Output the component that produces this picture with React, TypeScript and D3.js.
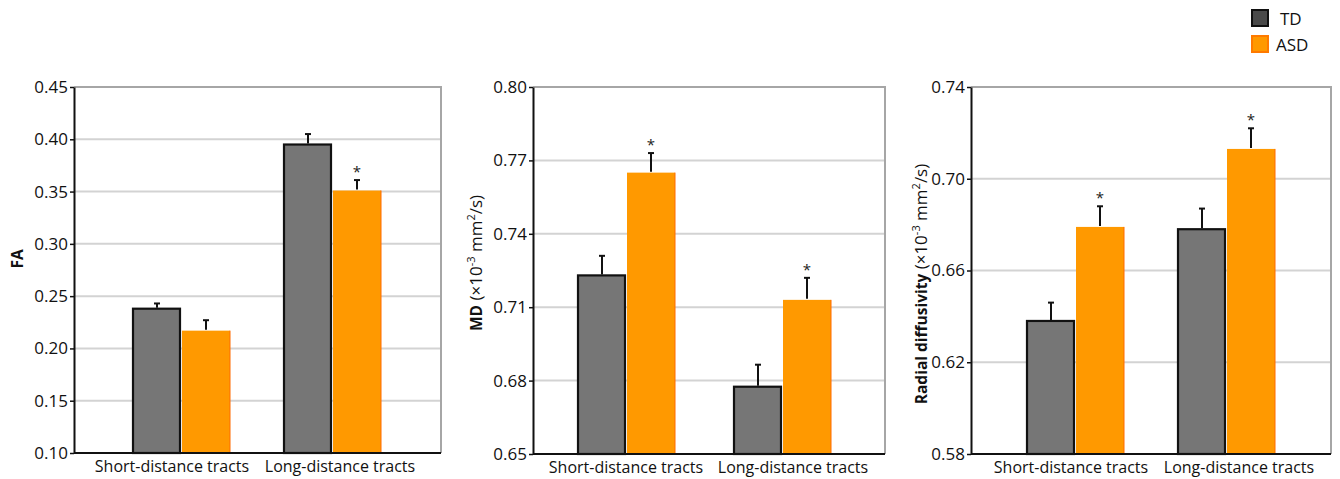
import React, { useRef, useEffect } from "react";
import * as d3 from "d3";

const categories = ["Short-distance tracts", "Long-distance tracts"];
const seriesNames = ["TD", "ASD"];

// FA
const faTD = [0.238, 0.395];
const faTDErr = [0.005, 0.01];
const faASD = [0.217, 0.351];
const faASDErr = [0.01, 0.01];
const faSig = [false, true];

// MD
const mdTD = [0.723, 0.6775];
const mdTDErr = [0.008, 0.009];
const mdASD = [0.765, 0.713];
const mdASDErr = [0.008, 0.009];
const mdSig = [true, true];

// Radial diffusivity
const rdTD = [0.638, 0.678];
const rdTDErr = [0.008, 0.009];
const rdASD = [0.679, 0.713];
const rdASDErr = [0.009, 0.009];
const rdSig = [true, true];

const faTicks = [0.1, 0.15, 0.2, 0.25, 0.3, 0.35, 0.4, 0.45];
const mdTicks = [0.65, 0.68, 0.71, 0.74, 0.77, 0.8];
const rdTicks = [0.58, 0.62, 0.66, 0.7, 0.74];

const FONT = "'Open Sans', sans-serif";
const GRAY = "#767676";
const ORANGE = "#ff9900";

const panels = [
  {
    td: faTD, tdErr: faTDErr, asd: faASD, asdErr: faASDErr, sig: faSig,
    ticks: faTicks,
    box: { left: 74, right: 441, top: 87, bottom: 453 },
    groups: [107, 258], labels: [98, 266],
    title: { x: 23, y: 259, parts: [{ t: "FA", bold: true }] },
  },
  {
    td: mdTD, tdErr: mdTDErr, asd: mdASD, asdErr: mdASDErr, sig: mdSig,
    ticks: mdTicks,
    box: { left: 533, right: 885, top: 87, bottom: 454 },
    groups: [93, 249], labels: [93, 260],
    title: {
      x: 482, y: 263,
      parts: [
        { t: "MD", bold: true }, { t: " (×10" }, { t: "-3", sup: true },
        { t: " mm" }, { t: "2", sup: true }, { t: "/s)" },
      ],
    },
  },
  {
    td: rdTD, tdErr: rdTDErr, asd: rdASD, asdErr: rdASDErr, sig: rdSig,
    ticks: rdTicks,
    box: { left: 971, right: 1331, top: 87, bottom: 454 },
    groups: [104, 255], labels: [100, 268],
    title: {
      x: 927, y: 284,
      parts: [
        { t: "Radial diffusivity", bold: true }, { t: " (×10" }, { t: "-3", sup: true },
        { t: " mm" }, { t: "2", sup: true }, { t: "/s)" },
      ],
    },
  },
];

const App = () => {
  const ref = useRef<SVGSVGElement>(null);

  useEffect(() => {
    const svg = d3.select(ref.current);
    svg.selectAll("*").remove();

    panels.forEach((p) => {
      const { left, right, top, bottom } = p.box;
      const w = right - left;
      const h = bottom - top;
      const g = svg.append("g").attr("transform", `translate(${left},${top})`);

      const y = d3
        .scaleLinear()
        .domain([p.ticks[0], p.ticks[p.ticks.length - 1]])
        .range([h, 0]);
      const x = d3.scalePoint().domain(categories).range(p.groups as [number, number]);
      const xl = d3.scalePoint().domain(categories).range(p.labels as [number, number]);
      const barW = 48;

      // grid
      g.selectAll(".grid")
        .data(p.ticks.slice(1))
        .enter()
        .append("line")
        .attr("x1", 0)
        .attr("x2", w)
        .attr("y1", (d) => y(d))
        .attr("y2", (d) => y(d))
        .attr("stroke", "#d3d3d3")
        .attr("stroke-width", 2);

      // frame top/right
      g.append("path")
        .attr("d", `M0,0H${w}V${h}`)
        .attr("fill", "none")
        .attr("stroke", "#a6a6a6")
        .attr("stroke-width", 2);

      // bars
      categories.forEach((c, i) => {
        const cx = x(c)!;
        g.append("rect")
          .attr("x", cx - barW)
          .attr("width", barW - 1)
          .attr("y", y(p.td[i]))
          .attr("height", h - y(p.td[i]))
          .attr("fill", GRAY)
          .attr("stroke", "#111")
          .attr("stroke-width", 2.2);
        g.append("rect")
          .attr("x", cx + 1)
          .attr("width", barW)
          .attr("y", y(p.asd[i]))
          .attr("height", h - y(p.asd[i]))
          .attr("fill", ORANGE);
        g.append("line")
          .attr("x1", cx + 1 + barW)
          .attr("x2", cx + 1 + barW)
          .attr("y1", y(p.asd[i]))
          .attr("y2", h)
          .attr("stroke", "#ff6a00")
          .attr("stroke-width", 1);

        const errs = [
          { cx: cx - barW / 2, v: p.td[i], e: p.tdErr[i] },
          { cx: cx + 1 + barW / 2, v: p.asd[i], e: p.asdErr[i] },
        ];
        errs.forEach((eb) => {
          g.append("line")
            .attr("x1", eb.cx).attr("x2", eb.cx)
            .attr("y1", y(eb.v) - 1).attr("y2", y(eb.v + eb.e))
            .attr("stroke", "#111").attr("stroke-width", 2);
          g.append("line")
            .attr("x1", eb.cx - 3).attr("x2", eb.cx + 3)
            .attr("y1", y(eb.v + eb.e)).attr("y2", y(eb.v + eb.e))
            .attr("stroke", "#111").attr("stroke-width", 2);
        });
        if (p.sig[i]) {
          g.append("text")
            .attr("x", cx + 1 + barW / 2)
            .attr("y", y(p.asd[i] + p.asdErr[i]) - 3)
            .attr("text-anchor", "middle")
            .attr("font-family", FONT)
            .attr("font-size", 15)
            .attr("fill", "#222")
            .text("*");
        }
      });

      // axes
      const ya = g
        .append("g")
        .call(
          d3
            .axisLeft(y)
            .tickValues(p.ticks)
            .tickFormat(d3.format(".2f"))
            .tickSize(4)
            .tickSizeOuter(0)
            .tickPadding(2)
        );
      ya.select(".domain").attr("stroke", "#111").attr("stroke-width", 2);
      ya.selectAll(".tick line").attr("stroke", "#111").attr("stroke-width", 1.5);
      ya.selectAll(".tick text")
        .attr("font-family", FONT)
        .attr("font-size", 17)
        .attr("fill", "#111");

      g.append("line")
        .attr("x1", 0).attr("x2", w)
        .attr("y1", h).attr("y2", h)
        .attr("stroke", "#111").attr("stroke-width", 2);

      g.selectAll(".cat")
        .data(categories)
        .enter()
        .append("text")
        .attr("x", (d) => xl(d)!)
        .attr("y", h + 19)
        .attr("text-anchor", "middle")
        .attr("font-family", FONT)
        .attr("font-size", 16)
        .attr("fill", "#111")
        .text((d) => d);

      // y title
      const t = svg
        .append("text")
        .attr("transform", `translate(${p.title.x},${p.title.y}) rotate(-90)`)
        .attr("text-anchor", "middle")
        .attr("font-family", FONT)
        .attr("font-size", 17)
        .attr("fill", "#111");
      p.title.parts.forEach((pt: any) => {
        const s = t.append("tspan").text(pt.t);
        if (pt.bold) s.attr("font-weight", "bold").attr("font-size", 15.5);
        if (pt.sup) s.attr("font-size", 11).attr("baseline-shift", "super");
      });
    });

    // legend
    const leg = svg.append("g").attr("transform", "translate(1252,10)");
    seriesNames.forEach((n, i) => {
      leg.append("rect")
        .attr("x", 0)
        .attr("y", i * 26)
        .attr("width", 16)
        .attr("height", 16)
        .attr("fill", i === 0 ? "#4a4a4a" : ORANGE)
        .attr("stroke", i === 0 ? "#111" : "#ff7a00")
        .attr("stroke-width", 2);
      leg.append("text")
        .attr("x", i === 0 ? 28 : 24)
        .attr("y", i * 26 + 15)
        .attr("font-family", FONT)
        .attr("font-size", 17)
        .attr("fill", "#111")
        .text(n);
    });

    return () => {
      svg.selectAll("*").remove();
    };
  }, []);

  return (
    <svg
      ref={ref}
      width={1340}
      height={479}
      style={{ display: "block", position: "absolute", left: 0, top: 0, background: "#fff" }}
    />
  );
};

export default App;
